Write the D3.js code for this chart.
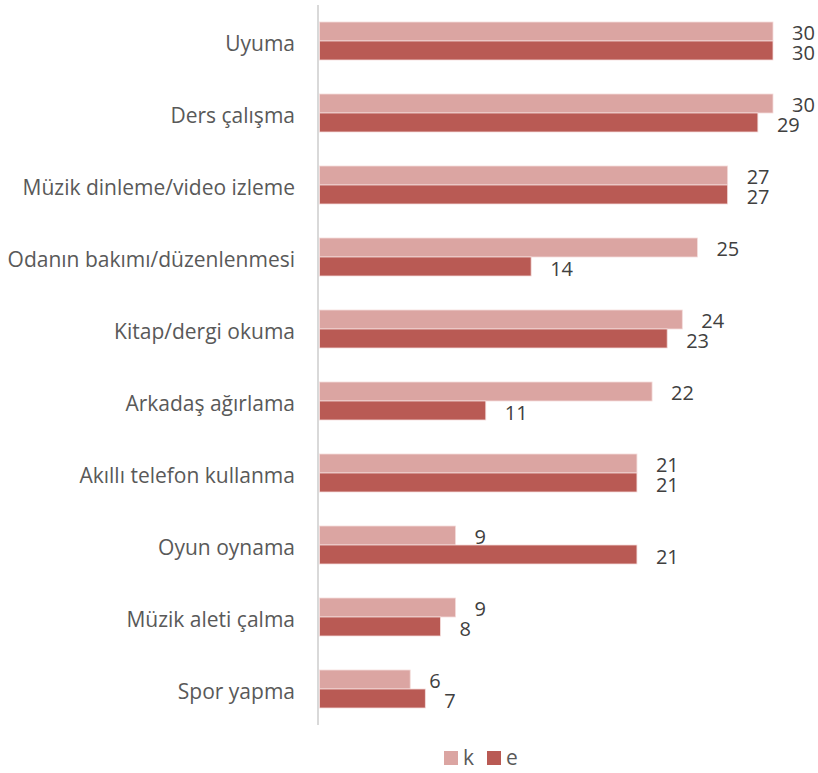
<!DOCTYPE html>
<html><head><meta charset="utf-8">
<script src="https://cdn.jsdelivr.net/npm/d3@7"></script>
<style>body{margin:0;background:#fff;} svg{display:block;font-family:"Open Sans",sans-serif;}</style>
</head><body>
<svg id="c" width="818" height="773"></svg>
<script>
const categories = ["Uyuma","Ders çalışma","Müzik dinleme/video izleme","Odanın bakımı/düzenlenmesi","Kitap/dergi okuma","Arkadaş ağırlama","Akıllı telefon kullanma","Oyun oynama","Müzik aleti çalma","Spor yapma"];
const seriesNames = ["k","e"];
const kValues = [30,30,27,25,24,22,21,9,9,6];
const eValues = [30,29,27,14,23,11,21,21,8,7];
const colors = {k:"#dba5a2", e:"#b95a54"};

const svg = d3.select("#c");
const x = d3.scaleLinear().domain([0,30]).range([319.5,773]);
const y = d3.scaleBand().domain(categories).range([5,725]);
const inner = d3.scaleBand().domain(seriesNames).range([0,38]);
const off = (y.bandwidth()-38)/2;

const data = categories.map((c,i)=>({c, k:kValues[i], e:eValues[i]}));

const g = svg.append("g");
data.forEach(d=>{
  seriesNames.forEach(s=>{
    g.append("rect")
      .attr("x", x(0))
      .attr("y", y(d.c)+off+inner(s))
      .attr("width", x(d[s])-x(0))
      .attr("height", inner.bandwidth())
      .attr("fill", colors[s])
      .attr("stroke", "#f4dcdb").attr("stroke-width", 0.8);
    g.append("text")
      .attr("x", x(d[s])+19)
      .attr("y", y(d.c)+off+inner(s)+inner.bandwidth()/2+(s==="k"?1.5:2.5))
      .attr("dy","0.35em")
      .attr("font-size", 20)
      .attr("fill", "#404040")
      .text(d[s]);
  });
});

// axis line
svg.append("line").attr("x1",318).attr("x2",318).attr("y1",5).attr("y2",725)
  .attr("stroke","#d9d9d9").attr("stroke-width",2);

// category labels
const yAxis = d3.axisLeft(y).tickSize(0).tickPadding(0);
const ag = svg.append("g").attr("transform","translate(295,3)").call(yAxis);
ag.select(".domain").remove();
ag.selectAll("text").attr("font-size",21).attr("fill","#595959").attr("font-family","'Open Sans',sans-serif");

// legend
const lg = svg.append("g");
const legendX = [444, 487];
seriesNames.forEach((s,i)=>{
  lg.append("rect").attr("x",legendX[i]).attr("y",751).attr("width",14).attr("height",14).attr("fill",colors[s]);
  lg.append("text").attr("x",legendX[i]+19).attr("y",758).attr("dy","0.35em")
    .attr("font-size",21).attr("fill","#595959").text(s);
});
</script>
</body></html>
